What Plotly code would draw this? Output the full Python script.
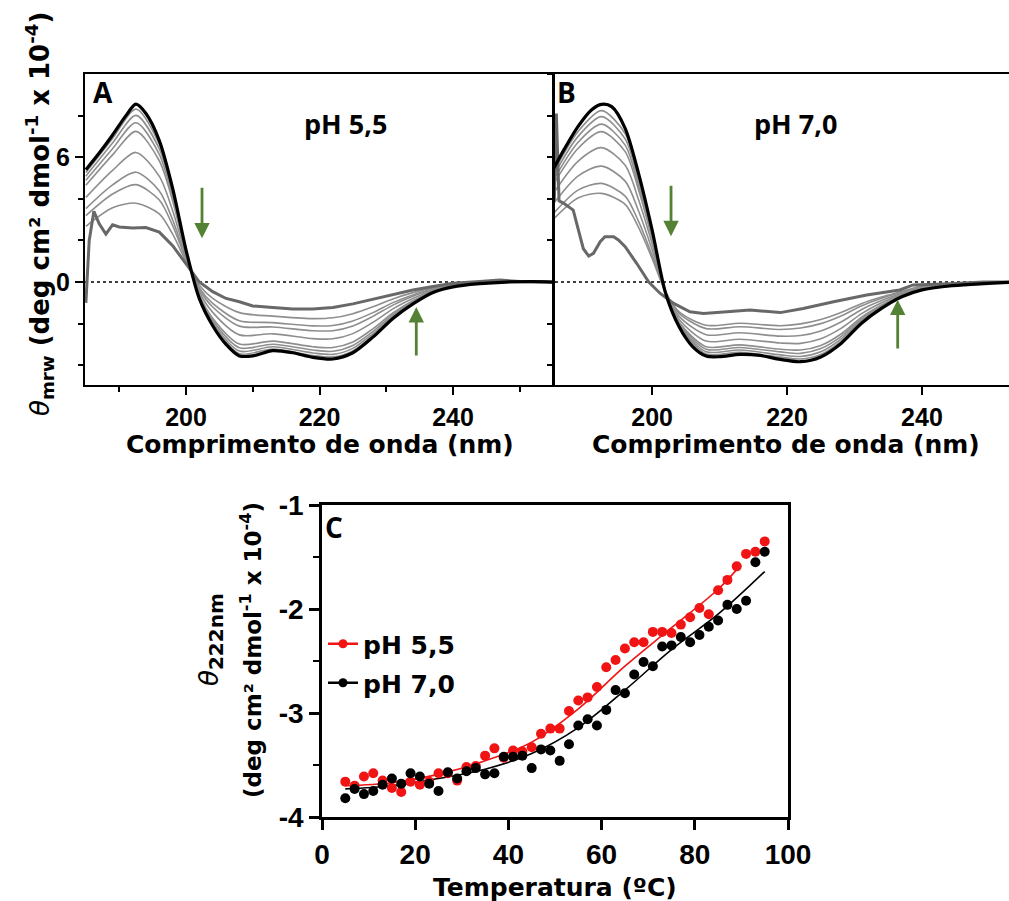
import plotly.graph_objects as go

W, H = 1009, 901

# ---------------- Panel A (pH 5,5) ----------------
wl_A = [185, 187, 189, 191, 192.5, 194, 196, 198, 200, 202, 204, 206, 208, 210, 213, 216, 219, 222, 225, 228, 231, 234, 237, 240, 244, 248, 252, 255]
black_A = [5.4, 6.2, 7.07, 8.0, 8.55, 8.1, 6.8, 4.5, 1.55, -0.8, -2.1, -3.0, -3.55, -3.55, -3.3, -3.4, -3.62, -3.7, -3.4, -2.65, -1.75, -1.05, -0.5, -0.23, -0.08, 0.0, 0.02, 0.0]

wl_thick_A = [185, 185.5, 186.2, 187, 188, 189, 190, 192, 194, 196, 198, 200, 202, 204, 206, 208, 210, 213, 216, 219, 222, 225, 228, 231, 234, 237, 240, 244, 247, 250, 255]
thick_A = [-1.0, 2.0, 3.4, 2.8, 2.3, 2.75, 2.65, 2.6, 2.62, 2.4, 1.75, 0.85, 0.0, -0.46, -0.79, -0.95, -1.15, -1.22, -1.3, -1.3, -1.22, -1.05, -0.83, -0.58, -0.38, -0.22, -0.06, 0.02, 0.1, 0.02, 0.0]

wl_thin_A = [185, 189, 192.5, 196, 198, 200, 202, 204, 208, 213, 219, 222, 225, 228, 231, 234, 237, 240, 248, 255]
thin_A = [
    [5.26, 6.90, 8.31, 6.62, 4.39, 1.52, -0.77, -2.03, -3.45, -3.22, -3.53, -3.60, -3.31, -2.58, -1.70, -1.02, -0.49, -0.22, 0.0, 0.0],
    [5.09, 6.68, 8.01, 6.40, 4.25, 1.49, -0.73, -1.95, -3.32, -3.11, -3.41, -3.48, -3.19, -2.49, -1.65, -0.99, -0.48, -0.22, 0.0, 0.0],
    [4.89, 6.41, 7.66, 6.14, 4.09, 1.45, -0.68, -1.85, -3.16, -2.99, -3.27, -3.33, -3.05, -2.38, -1.58, -0.95, -0.46, -0.21, 0.0, 0.0],
    [4.65, 6.11, 7.24, 5.83, 3.90, 1.40, -0.62, -1.74, -2.98, -2.84, -3.11, -3.15, -2.88, -2.25, -1.49, -0.90, -0.44, -0.19, 0.0, 0.0],
    [4.07, 5.37, 6.23, 5.08, 3.43, 1.28, -0.49, -1.46, -2.54, -2.49, -2.72, -2.73, -2.48, -1.94, -1.29, -0.79, -0.39, -0.16, 0.01, 0.0],
    [3.53, 4.67, 5.28, 4.38, 2.99, 1.17, -0.36, -1.20, -2.12, -2.16, -2.34, -2.34, -2.11, -1.65, -1.11, -0.68, -0.35, -0.14, 0.01, 0.0],
    [3.19, 4.23, 4.68, 3.94, 2.71, 1.10, -0.28, -1.03, -1.86, -1.95, -2.11, -2.09, -1.87, -1.47, -0.99, -0.62, -0.32, -0.12, 0.01, 0.0],
    [2.68, 3.57, 3.79, 3.28, 2.30, 0.99, -0.16, -0.79, -1.47, -1.64, -1.76, -1.72, -1.52, -1.19, -0.81, -0.51, -0.28, -0.09, 0.02, 0.0],
]

# ---------------- Panel B (pH 7,0) ----------------
wl_B = [185, 187, 189, 191, 192.5, 194, 196, 198, 200, 202, 204, 206, 208, 210, 213, 216, 219, 222, 225, 228, 231, 234, 237, 240, 244, 248, 252, 253]
black_B = [5.22, 6.4, 7.47, 8.27, 8.54, 8.43, 7.39, 5.2, 2.5, -0.54, -2.15, -3.1, -3.56, -3.59, -3.48, -3.53, -3.72, -3.83, -3.6, -2.95, -1.99, -1.27, -0.71, -0.38, -0.19, -0.1, -0.03, -0.02]

wl_thick_B = [185, 185.5, 185.8, 186.2, 186.9, 188.3, 189.8, 190.6, 191.3, 192.3, 193.0, 194.3, 195.0, 196.0, 197.7, 199.5, 201.2, 203.2, 205.6, 207.6, 211.1, 214.5, 219.0, 222.4, 226.9, 231.8, 236.7, 238.7, 244.1, 249.1, 253]
thick_B = [4.6, 3.9, 8.1, 3.9, 3.78, 3.46, 1.6, 1.25, 1.38, 1.94, 2.18, 2.18, 2.02, 1.7, 0.9, 0.0, -0.55, -1.03, -1.43, -1.51, -1.43, -1.35, -1.47, -1.27, -0.95, -0.62, -0.38, -0.14, -0.08, 0.0, 0.0]

wl_thin_B = [185, 189, 192.5, 196, 198, 200, 202, 204, 208, 213, 219, 222, 225, 228, 231, 234, 237, 240, 248, 253]
thin_B = [
    [5.06, 7.23, 8.24, 7.14, 5.02, 2.41, -0.54, -2.10, -3.46, -3.38, -3.61, -3.70, -3.48, -2.85, -1.92, -1.23, -0.69, -0.37, -0.10, -0.03],
    [4.90, 6.99, 7.95, 6.88, 4.84, 2.31, -0.53, -2.05, -3.35, -3.27, -3.50, -3.58, -3.35, -2.74, -1.86, -1.19, -0.68, -0.35, -0.09, -0.03],
    [4.70, 6.71, 7.59, 6.58, 4.62, 2.20, -0.53, -1.99, -3.23, -3.15, -3.36, -3.43, -3.20, -2.62, -1.78, -1.15, -0.65, -0.34, -0.08, -0.03],
    [4.51, 6.42, 7.23, 6.27, 4.41, 2.08, -0.52, -1.93, -3.11, -3.02, -3.23, -3.27, -3.05, -2.50, -1.70, -1.10, -0.63, -0.32, -0.08, -0.02],
    [4.09, 5.80, 6.46, 5.61, 3.94, 1.84, -0.51, -1.80, -2.84, -2.75, -2.93, -2.95, -2.73, -2.23, -1.53, -1.00, -0.59, -0.29, -0.07, -0.02],
    [3.61, 5.09, 5.57, 4.85, 3.40, 1.55, -0.50, -1.65, -2.53, -2.44, -2.60, -2.57, -2.35, -1.92, -1.33, -0.89, -0.54, -0.25, -0.05, -0.02],
    [3.16, 4.42, 4.74, 4.13, 2.90, 1.28, -0.48, -1.51, -2.24, -2.15, -2.28, -2.21, -2.00, -1.63, -1.15, -0.78, -0.49, -0.21, -0.04, -0.01],
    [2.90, 4.04, 4.26, 3.73, 2.61, 1.13, -0.48, -1.43, -2.08, -1.98, -2.10, -2.01, -1.80, -1.46, -1.04, -0.72, -0.46, -0.19, -0.03, -0.01],
]

# ---------------- Panel C (thermal denaturation at 222 nm) ----------------
temp_C = [5, 7, 9, 11, 13, 15, 17, 19, 21, 23, 25, 27, 29, 31, 33, 35, 37, 39, 41, 43, 45, 47, 49, 51, 53, 55, 57, 59, 61, 63, 65, 67, 69, 71, 73, 75, 77, 79, 81, 83, 85, 87, 89, 91, 93, 95]
red_C = [-3.66, -3.70, -3.61, -3.58, -3.65, -3.72, -3.76, -3.66, -3.69, -3.66, -3.58, -3.58, -3.65, -3.52, -3.51, -3.41, -3.34, -3.43, -3.36, -3.37, -3.33, -3.20, -3.15, -3.15, -2.98, -2.88, -2.85, -2.75, -2.56, -2.49, -2.38, -2.32, -2.32, -2.22, -2.22, -2.23, -2.15, -2.08, -1.99, -2.05, -1.82, -1.72, -1.59, -1.47, -1.45, -1.35]
black_C = [-3.82, -3.73, -3.78, -3.75, -3.69, -3.63, -3.68, -3.58, -3.61, -3.68, -3.75, -3.57, -3.63, -3.56, -3.53, -3.59, -3.58, -3.42, -3.42, -3.41, -3.53, -3.35, -3.36, -3.46, -3.30, -3.12, -3.06, -3.12, -2.97, -2.78, -2.81, -2.63, -2.51, -2.55, -2.36, -2.35, -2.27, -2.32, -2.25, -2.17, -2.11, -1.96, -2.00, -1.92, -1.55, -1.45]
fitT_red = [5, 15, 25, 35, 45, 55, 65, 75, 85, 89.6]
fit_red = [-3.70, -3.67, -3.59, -3.46, -3.28, -2.96, -2.55, -2.18, -1.81, -1.59]
fitT_blk = [5, 15, 25, 35, 45, 55, 65, 75, 85, 95]
fit_blk = [-3.73, -3.70, -3.63, -3.54, -3.39, -3.14, -2.78, -2.39, -2.05, -1.64]

# tick values / labels
xticks_AB = [200, 220, 240]
xminor_A = [190, 210, 230, 250]
yticks_AB = [0, 6]
yminor_AB = [-4, -2, 2, 4, 8]
xticks_C = [0, 20, 40, 60, 80, 100]
yticks_C = [-4, -3, -2, -1]
yminor_C = [-3.5, -2.5, -1.5]

THIN = "#8e8e8e"
THICK = "#686868"
GREEN = "#548235"
RED = "#f01414"

fig = go.Figure()

def add_panel(xa, ya, wl_thin, thins, wl_thick, thick, wl_blk, blk):
    for t in thins:
        fig.add_trace(go.Scatter(x=wl_thin, y=t, mode="lines", xaxis=xa, yaxis=ya,
                                 line=dict(color=THIN, width=1.6, shape="spline", smoothing=0.8),
                                 showlegend=False, hoverinfo="skip"))
    fig.add_trace(go.Scatter(x=wl_thick, y=thick, mode="lines", xaxis=xa, yaxis=ya,
                             line=dict(color=THICK, width=3), showlegend=False, hoverinfo="skip"))
    fig.add_trace(go.Scatter(x=wl_blk, y=blk, mode="lines", xaxis=xa, yaxis=ya,
                             line=dict(color="black", width=3.2, shape="spline", smoothing=0.8),
                             showlegend=False, hoverinfo="skip"))

add_panel("x", "y", wl_thin_A, thin_A, wl_thick_A, thick_A, wl_A, black_A)
add_panel("x2", "y2", wl_thin_B, thin_B, wl_thick_B, thick_B, wl_B, black_B)

# Panel C
fig.add_trace(go.Scatter(x=fitT_red, y=fit_red, mode="lines", xaxis="x3", yaxis="y3",
                         line=dict(color=RED, width=1.6, shape="spline"), showlegend=False))
fig.add_trace(go.Scatter(x=fitT_blk, y=fit_blk, mode="lines", xaxis="x3", yaxis="y3",
                         line=dict(color="black", width=1.6, shape="spline"), showlegend=False))
fig.add_trace(go.Scatter(x=temp_C, y=red_C, mode="markers", xaxis="x3", yaxis="y3",
                         marker=dict(color=RED, size=10), showlegend=False))
fig.add_trace(go.Scatter(x=temp_C, y=black_C, mode="markers", xaxis="x3", yaxis="y3",
                         marker=dict(color="black", size=10), showlegend=False))
# legend entries
fig.add_trace(go.Scatter(x=[None], y=[None], mode="lines+markers", xaxis="x3", yaxis="y3",
                         name="pH 5,5", marker=dict(color=RED, size=9),
                         line=dict(color=RED, width=2.5), legend="legend"))
fig.add_trace(go.Scatter(x=[None], y=[None], mode="lines+markers", xaxis="x3", yaxis="y3",
                         name="pH 7,0", marker=dict(color="black", size=9),
                         line=dict(color="black", width=2.5), legend="legend2"))

TICKF = dict(family="Liberation Sans", size=25, color="black", weight="bold")
TICKF_C = dict(family="Liberation Sans", size=28, color="black", weight="bold")

def px_x(p):
    return p / W

def px_y(p):
    return 1 - p / H

def bold(vals):
    return ["<b>%g</b>" % v for v in vals]

dom_y_AB = [px_y(385), px_y(74)]

common = dict(showgrid=False, zeroline=False, automargin=False, tickcolor="black",
              linecolor="black")

LEGF = dict(family="DejaVu Sans", size=25, color="black", weight="bold")

fig.update_layout(
    template="none",
    width=W, height=H, margin=dict(l=0, r=0, t=0, b=0, pad=0),
    paper_bgcolor="white", plot_bgcolor="white",
    xaxis=dict(domain=[px_x(85), px_x(553)], range=[184.87, 254.98], anchor="y",
               tickmode="array", tickvals=xticks_AB, ticktext=bold(xticks_AB),
               ticks="outside", ticklen=8, tickwidth=2,
               minor=dict(tickmode="array", tickvals=xminor_A, ticks="outside", ticklen=5,
                          tickwidth=1.5, tickcolor="black", showgrid=False),
               showline=True, linewidth=2, mirror=True,
               tickfont=TICKF, ticklabelstandoff=1, **common),
    yaxis=dict(domain=dom_y_AB, range=[-4.95, 10.0], anchor="x",
               tickmode="array", tickvals=yticks_AB, ticktext=bold(yticks_AB),
               ticks="outside", ticklen=8, tickwidth=2,
               minor=dict(tickmode="array", tickvals=yminor_AB, ticks="outside", ticklen=5,
                          tickwidth=1.5, tickcolor="black", showgrid=False),
               showline=True, linewidth=2, mirror=True,
               tickfont=TICKF, ticklabelstandoff=0, **common),
    xaxis2=dict(domain=[px_x(555), 1.0], range=[185.6, 252.9], anchor="y2",
                tickmode="array", tickvals=xticks_AB, ticktext=bold(xticks_AB),
                ticks="outside", ticklen=8, tickwidth=2,
                showline=True, linewidth=2, mirror=True,
                tickfont=TICKF, ticklabelstandoff=1, **common),
    yaxis2=dict(domain=dom_y_AB, range=[-4.95, 10.0], anchor="x2",
                tick0=0, dtick=2, ticks="outside", ticklen=5, tickwidth=1.5,
                showticklabels=False, showline=True, linewidth=2.5, mirror=False, **common),
    xaxis3=dict(domain=[px_x(322), px_x(788)], range=[0, 100], anchor="y3",
                tickmode="array", tickvals=xticks_C, ticktext=bold(xticks_C),
                ticks="outside", ticklen=10, tickwidth=2.5,
                showline=True, linewidth=2.5, mirror=True,
                tickfont=TICKF_C, ticklabelstandoff=1, **common),
    yaxis3=dict(domain=[px_y(817), px_y(505)], range=[-4, -1], anchor="x3",
                tickmode="array", tickvals=yticks_C, ticktext=bold(yticks_C),
                ticks="outside", ticklen=10, tickwidth=2.5,
                minor=dict(tickmode="array", tickvals=yminor_C, ticks="outside", ticklen=6,
                           tickwidth=2, tickcolor="black", showgrid=False),
                showline=True, linewidth=2.5, mirror=True,
                tickfont=TICKF_C, ticklabelstandoff=0, **common),
    legend=dict(x=px_x(323), y=px_y(621), xanchor="left", yanchor="top",
                bgcolor="rgba(0,0,0,0)", itemwidth=30, font=LEGF),
    legend2=dict(x=px_x(323), y=px_y(660), xanchor="left", yanchor="top",
                 bgcolor="rgba(0,0,0,0)", itemwidth=30, font=LEGF),
)

# dotted zero lines
for xr, yr in (("x domain", "y"), ("x2 domain", "y2")):
    fig.add_shape(type="line", xref=xr, yref=yr, x0=0, x1=1, y0=0, y1=0,
                  line=dict(color="black", width=1.6, dash="dot"), layer="below")

# green arrows
arrows = [("x", "y", 202.4, 4.6, 2.1), ("x", "y", 234.5, -3.6, -1.2),
          ("x2", "y2", 202.8, 4.7, 2.2), ("x2", "y2", 236.4, -3.27, -0.85)]
for xr, yr, xv, y_from, y_to in arrows:
    fig.add_annotation(x=xv, y=y_to, ax=xv, ay=y_from, xref=xr, yref=yr, axref=xr, ayref=yr,
                       showarrow=True, arrowhead=2, arrowsize=1.1, arrowwidth=2.8,
                       arrowcolor=GREEN, text="")

LBL = dict(family="Open Sans", size=28, color="black", weight="bold")
PH = dict(family="Open Sans", size=27, color="black", weight="bold")
TITLE = dict(family="DejaVu Sans", size=25, color="black", weight="bold")

def ann(text, x, y, font, angle=0, xanchor="center", yanchor="middle"):
    fig.add_annotation(text=text, x=px_x(x), y=px_y(y), xref="paper", yref="paper",
                       showarrow=False, font=font, textangle=angle,
                       xanchor=xanchor, yanchor=yanchor)

ann("A", 103, 92, LBL)
ann("B", 566, 92, LBL)
ann("C", 334, 527, LBL)
ann("pH 5,5", 345, 123, PH)
ann("pH 7,0", 795, 123, PH)

ann("Comprimento de onda (nm)", 320, 444, TITLE)
ann("Comprimento de onda (nm)", 786, 444, TITLE)
ann("Temperatura (ºC)", 555, 887, TITLE)

ytitle_font = dict(family="DejaVu Sans", size=26, color="black")
ann("<i>θ</i><b><sub>mrw</sub> (deg cm² dmol<sup>-1</sup> x 10<sup>-4</sup>)</b>", 40, 214, ytitle_font, angle=-90)
ytitle_c = dict(family="DejaVu Sans", size=23, color="black")
ann("<span style=\"font-size:26px\"><i>θ</i></span><b><sub><span style=\"font-size:20px\">222nm</span></sub></b>",
    211, 640, ytitle_c, angle=-90)
ann("<b>(deg cm² dmol<sup>-1</sup> x 10<sup>-4</sup>)</b>", 251, 650, ytitle_c, angle=-90)

fig.write_html("out.html")
